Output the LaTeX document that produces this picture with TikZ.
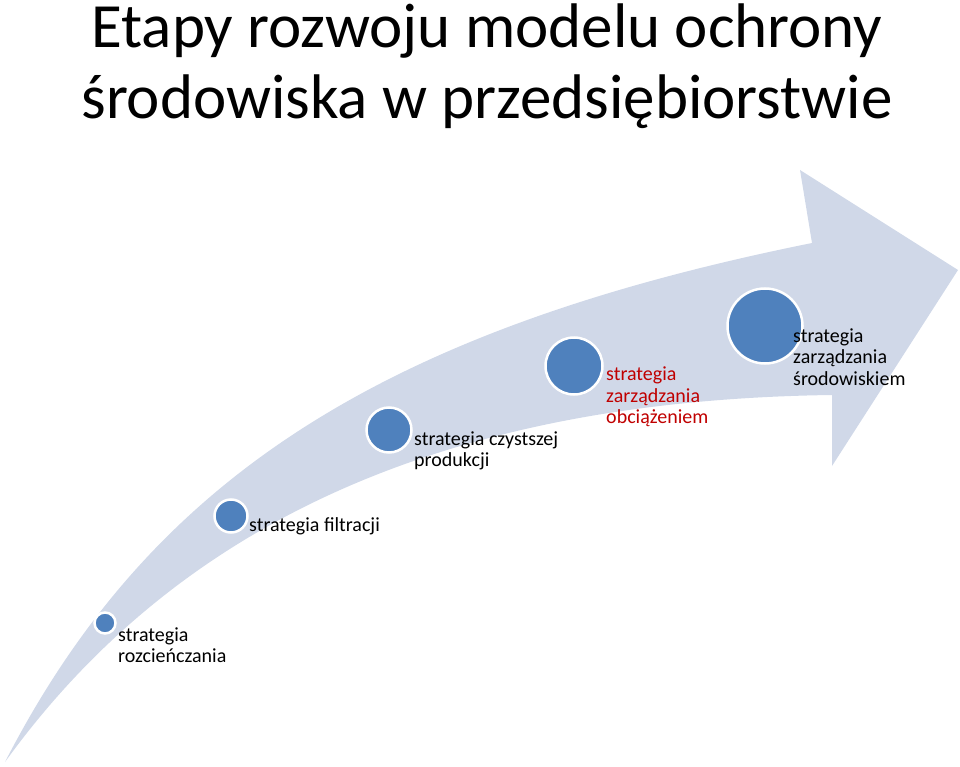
\documentclass[tikz,border=0pt]{standalone}
\usepackage{fontspec}
\setmainfont{Carlito}
\begin{document}
\begin{tikzpicture}[x=1pt,y=-1pt,
  dot/.style={circle,fill=dotblue,draw=white,line width=2.5pt,inner sep=0pt},
  lbl/.style={anchor=west,align=left,font=\fontsize{20}{21.5}\selectfont,inner sep=0pt}]
\definecolor{dotblue}{HTML}{4F81BD}
\definecolor{arrowfill}{HTML}{D0D8E8}
\definecolor{redtxt}{HTML}{C00000}
\useasboundingbox (0,0) rectangle (960,767);
\fill[arrowfill] (5,762) .. controls (150,480) and (380,330) .. (812,243)
  -- (800,170) -- (958,270) -- (832,466) -- (832,395)
  .. controls (450,400) and (180,520) .. (5,762) -- cycle;
\node[font=\fontsize{63}{71}\selectfont,align=center] (title) at (487,66)
  {Etapy rozwoju modelu ochrony\\środowiska w przedsiębiorstwie};
\node[dot,minimum size=21pt] (c1) at (105,623) {};
\node[dot,minimum size=33pt] (c2) at (231,516) {};
\node[dot,minimum size=45pt] (c3) at (389,430) {};
\node[dot,minimum size=57pt] (c4) at (574,366) {};
\node[dot,minimum size=75pt] (c5) at (765,326) {};
\node[lbl] (t1) at (118,645) {strategia\\rozcieńczania};
\node[lbl] (t2) at (249,526) {strategia filtracji};
\node[lbl] (t3) at (414,451) {strategia czystszej\\produkcji};
\node[lbl,text=redtxt] (t4) at (606,397) {strategia\\zarządzania\\obciążeniem};
\node[lbl] (t5) at (793,357) {strategia\\zarządzania\\środowiskiem};
\end{tikzpicture}
\end{document}
